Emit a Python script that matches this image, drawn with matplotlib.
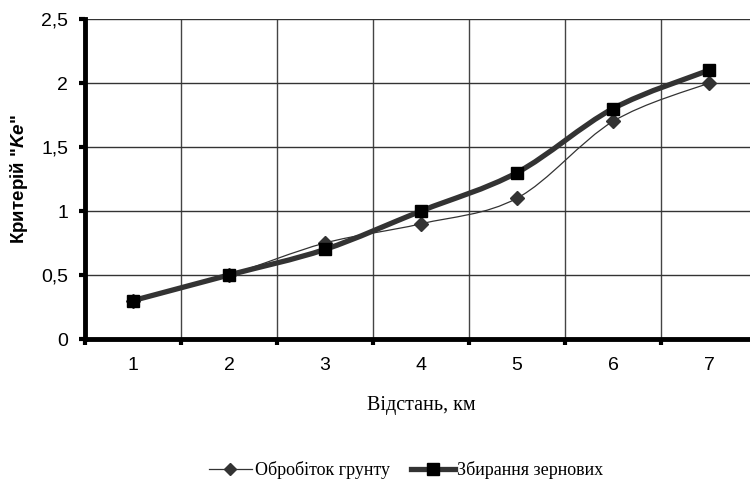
import matplotlib
matplotlib.use("Agg")
import matplotlib.pyplot as plt
from matplotlib.path import Path
from matplotlib.patches import PathPatch
from matplotlib.lines import Line2D
from matplotlib.ticker import FixedLocator, FuncFormatter
import numpy as np

plt.rcParams["mathtext.fontset"] = "custom"
plt.rcParams["mathtext.bfit"] = "Liberation Sans:bold:italic"
plt.rcParams["mathtext.bf"] = "Liberation Sans:bold"
plt.rcParams["mathtext.rm"] = "Liberation Sans"

distance = [1, 2, 3, 4, 5, 6, 7]
tillage = [0.3, 0.5, 0.75, 0.9, 1.1, 1.7, 2.0]
harvest = [0.3, 0.5, 0.7, 1.0, 1.3, 1.8, 2.1]
names = ["Обробіток грунту", "Збирання зернових"]


def smooth_path(xs, ys):
    # bezier through the points, like excel's smoothed line
    pts = np.column_stack([xs, ys]).astype(float)
    n = len(pts)
    verts = [pts[0]]
    codes = [Path.MOVETO]
    for i in range(n - 1):
        p0 = pts[i - 1] if i > 0 else pts[i]
        p1 = pts[i]
        p2 = pts[i + 1]
        p3 = pts[i + 2] if i + 2 < n else pts[i + 1]
        c1 = p1 + (p2 - p0) / 6
        c2 = p2 - (p3 - p1) / 6
        verts += [c1, c2, p2]
        codes += [Path.CURVE4] * 3
    return Path(verts, codes)


fig = plt.figure(figsize=(7.5, 4.83), dpi=100)
ax = fig.add_axes([85 / 750, 144 / 483, 672 / 750, 320 / 483])

ax.set_xlim(0.5, 7.5)
ax.set_ylim(0, 2.5)

ax.add_patch(PathPatch(smooth_path(distance, tillage), fill=False,
                       edgecolor="#333333", lw=0.9, zorder=3))
ax.add_patch(PathPatch(smooth_path(distance, harvest), fill=False,
                       edgecolor="#333333", lw=3.8, zorder=4, capstyle="butt"))
ax.plot(distance, tillage, ls="none", marker="D", ms=7.5, color="#333333", zorder=5)
ax.plot(distance, harvest, ls="none", marker="s", ms=9, color="black", zorder=6)

ax.set_yticks(np.arange(0, 2.51, 0.5))
ax.yaxis.set_major_formatter(FuncFormatter(lambda v, p: f"{v:g}".replace(".", ",")))
ax.set_xticks(distance)
ax.set_xticklabels([str(d) for d in distance])
ax.xaxis.set_minor_locator(FixedLocator(np.arange(0.5, 7.6, 1)))

ax.tick_params(axis="x", which="major", length=0, pad=13)
ax.tick_params(axis="x", which="minor", length=4, width=3, direction="out", color="black")
ax.tick_params(axis="y", length=4, width=3, direction="out", pad=8)
for lab in ax.get_xticklabels() + ax.get_yticklabels():
    lab.set_fontfamily("Liberation Sans")
    lab.set_fontsize(14)

ax.grid(True, axis="y", color="#333333", lw=1)
ax.grid(True, axis="x", which="minor", color="#444444", lw=1)
ax.set_axisbelow(True)

for s in ["top", "right"]:
    ax.spines[s].set_visible(False)
ax.spines["left"].set_linewidth(3.5)
ax.spines["bottom"].set_linewidth(3.5)

ax.set_ylabel('Критерій "$\\mathbfit{Ke}$"', fontfamily="Liberation Sans",
              fontweight="bold", fontsize=13.5)
ax.yaxis.label.set_verticalalignment("center")
ax.yaxis.set_label_coords((19 - 85) / 672, 0.5)
ax.set_xlabel("Відстань, км", fontfamily="Liberation Serif", fontsize=14.5, labelpad=16)

handles = [
    Line2D([], [], color="#333333", lw=0.9, marker="D", ms=6.5),
    Line2D([], [], color="#333333", lw=3.8, marker="s", mfc="black", mec="black", ms=8.5),
]
fig.legend(handles, names, loc="center", bbox_to_anchor=(406 / 750, 13 / 483),
           ncol=2, frameon=False, prop={"family": "Liberation Serif", "size": 13},
           handlelength=2.4, handletextpad=0.15, columnspacing=1.2)

fig.savefig("out.png", dpi=100)
